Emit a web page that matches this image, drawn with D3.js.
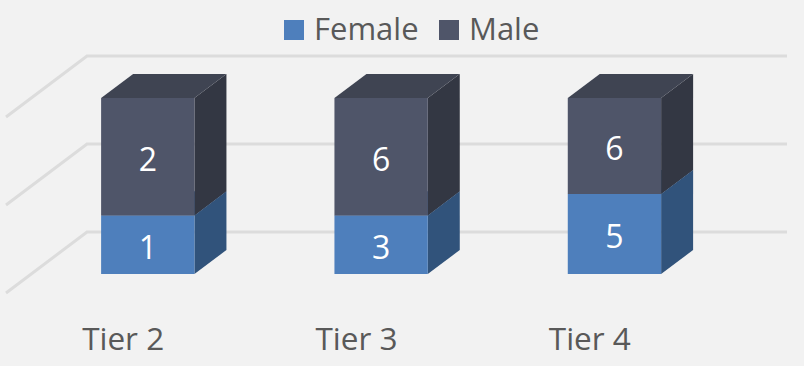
<!DOCTYPE html>
<html>
<head>
<meta charset="utf-8">
<script src="https://cdn.jsdelivr.net/npm/d3@7"></script>
<style>
  html, body { margin: 0; padding: 0; background: #f2f2f2; overflow: hidden; }
  text { font-family: "Open Sans", sans-serif; }
</style>
</head>
<body>
<div id="chart"></div>
<script>
const tiers  = ['Tier 2', 'Tier 3', 'Tier 4'];
const female = [1, 3, 5];
const male   = [2, 6, 6];
const gridTicks = [0, 0.5, 1];
const seriesNames = ['Female', 'Male'];

const width = 804;
const height = 366;

const colors = {
    Female: {front: '#4e7fbc', side: '#31537b', top: '#3c6596'},
    Male:   {front: '#4f5569', side: '#333743', top: '#3f4452'}
};

const svg = d3.select('#chart')
    .append('svg')
    .attr('width', width)
    .attr('height', height)
    .style('display', 'block');

// x and y scales live on the front plane of the floor
const xScale = d3.scaleBand().domain(tiers).range([6, 706]).paddingInner(0.6).paddingOuter(0.3);
const yScale = d3.scaleLinear().domain([0, 1]).range([293, 117]);

// depth goes up and to the right
const depthScale = d3.scaleLinear().domain([0, 1]);
const depthX = depthScale.copy().range([0, 81]);
const depthY = depthScale.copy().range([0, -61]);
const barDepth = [0.31, 0.705];

const px = (x, d) => x + depthX(d);
const py = (y, d) => y + depthY(d);
const poly = pts => pts.map(p => p.join(',')).join(' ');

// gridlines: back wall plus the diagonal on the side wall
const gridG = svg.append('g')
    .attr('fill', 'none')
    .attr('stroke', '#dcdcdc')
    .attr('stroke-width', 3);

gridG.selectAll('polyline')
    .data(gridTicks)
    .enter()
    .append('polyline')
    .attr('points', t => poly([
        [px(6, 0), py(yScale(t), 0)],
        [px(6, 1), py(yScale(t), 1)],
        [px(706, 1), py(yScale(t), 1)]
    ]));

// 100% stack
const rows = tiers.map((tier, i) => ({tier, Female: female[i], Male: male[i]}));
const stacked = d3.stack().keys(seriesNames).offset(d3.stackOffsetExpand)(rows);

const [d0, d1] = barDepth;

stacked.forEach(layer => {
    const c = colors[layer.key];
    const g = svg.append('g').attr('class', 'series-' + layer.key);

    layer.forEach(seg => {
        const xl = xScale(seg.data.tier);
        const xr = xl + xScale.bandwidth();
        const yb = yScale(seg[0]);
        const yt = yScale(seg[1]);

        // side face
        g.append('polygon')
            .attr('fill', c.side)
            .attr('points', poly([
                [px(xr, d0), py(yt, d0)],
                [px(xr, d1), py(yt, d1)],
                [px(xr, d1), py(yb, d1)],
                [px(xr, d0), py(yb, d0)]
            ]));

        // top face
        g.append('polygon')
            .attr('fill', c.top)
            .attr('points', poly([
                [px(xl, d0), py(yt, d0)],
                [px(xl, d1), py(yt, d1)],
                [px(xr, d1), py(yt, d1)],
                [px(xr, d0), py(yt, d0)]
            ]));

        // front face
        g.append('polygon')
            .attr('fill', c.front)
            .attr('points', poly([
                [px(xl, d0), py(yt, d0)],
                [px(xr, d0), py(yt, d0)],
                [px(xr, d0), py(yb, d0)],
                [px(xl, d0), py(yb, d0)]
            ]));
    });
});

// data labels go on top of all faces
stacked.forEach(layer => {
    svg.append('g').selectAll('text')
        .data(layer)
        .enter()
        .append('text')
        .attr('x', d => px(xScale(d.data.tier) + xScale.bandwidth() / 2, d0))
        .attr('y', d => py(yScale((d[0] + d[1]) / 2), d0) + 2.5)
        .attr('dy', '0.36em')
        .attr('text-anchor', 'middle')
        .attr('fill', '#ffffff')
        .attr('font-size', 32)
        .text(d => d.data[layer.key]);
});

// category axis
const xAxis = svg.append('g')
    .attr('transform', 'translate(0.5,325)')
    .call(d3.axisBottom(xScale).tickSize(0));
xAxis.select('.domain').remove();
xAxis.selectAll('text')
    .attr('fill', '#595959')
    .attr('font-size', 31.5)
    .attr('font-family', '"Open Sans", sans-serif');

// legend
const legendX = d3.scaleOrdinal().domain(seriesNames).range([284, 439]);
const legend = svg.append('g').selectAll('g')
    .data(seriesNames)
    .enter()
    .append('g')
    .attr('transform', d => `translate(${legendX(d)},20)`);

legend.append('rect')
    .attr('width', 20)
    .attr('height', 20)
    .attr('fill', d => colors[d].front);

legend.append('text')
    .attr('x', 30)
    .attr('y', 19.5)
    .attr('fill', '#595959')
    .attr('font-size', 31)
    .text(d => d);
</script>
</body>
</html>
